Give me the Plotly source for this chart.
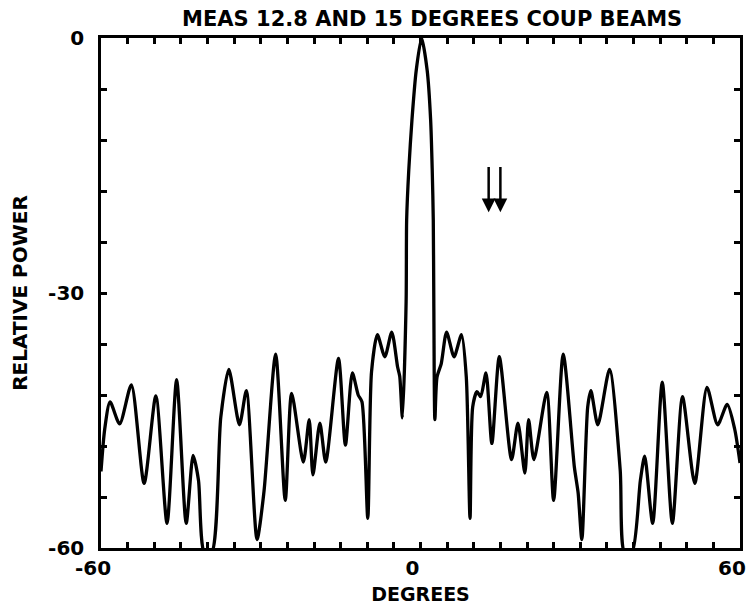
import plotly.graph_objects as go

# ---- data ----
degrees = [-60, -59.3, -58.3, -56.5, -54.3, -51.9, -49.7, -47.6, -45.8, -44.0,
           -42.7, -41.7, -40.6, -39.2, -37.5, -36.0, -34.0, -32.7, -30.7, -29.4,
           -27.2, -25.4, -24.2, -22.0, -20.9, -20.2, -18.9, -17.8, -15.4, -14.1,
           -12.8, -11.7, -11.0, -9.9, -9.2, -8.1, -6.7, -5.4, -4.3, -3.9,
           -3.4, -2.7, -2.6, -2.2, -1.6, -0.8, 0.2, 1.25, 1.9, 2.2,
           2.4, 2.5, 2.7, 3.1, 3.9, 4.9, 6.3, 7.7, 8.6, 9.3,
           9.8, 10.6, 11.3, 12.3, 13.4, 14.8, 17.1, 18.3, 19.6, 20.3,
           21.3, 23.7, 25.0, 26.8, 28.9, 29.6, 30.3, 31.4, 32.0, 33.3,
           35.5, 37.5, 38.3, 39.7, 41.3, 42.1, 43.6, 45.4, 47.3, 49.2,
           51.5, 53.8, 55.8, 57.6, 59.0, 60]
relative_power = [-51, -46, -42.8, -45.4, -40.8, -52.4, -42.1, -57.1, -40.2, -57.1,
                  -49.1, -52.0, -60.5, -60.5, -44.6, -39.0, -45.5, -41.5, -59.0, -53.4,
                  -37.2, -54.4, -41.8, -49.9, -44.9, -51.4, -45.3, -49.9, -37.7, -47.9,
                  -39.4, -42.0, -42.8, -56.5, -39.3, -34.9, -37.5, -34.6, -38.7, -39.8,
                  -44.7, -31.0, -21.4, -15.5, -9.6, -3.8, 0.0, -3.8, -9.6, -15.5,
                  -21.4, -31.0, -44.9, -39.9, -38.3, -34.6, -37.5, -34.9, -39.9, -56.5,
                  -43.4, -41.6, -42.2, -39.4, -47.7, -37.5, -49.6, -45.3, -51.2, -44.9,
                  -49.6, -41.7, -54.4, -37.2, -50.5, -53.5, -59.0, -43.4, -41.5, -45.5,
                  -39.0, -50.8, -60.5, -60.5, -52.0, -49.2, -57.1, -40.5, -57.1, -42.2,
                  -52.4, -41.1, -45.5, -43.1, -46.0, -50.0]

beam_angles = [12.8, 15.0]          # coupled beam directions (arrows)
arrow_tail = -15.0
arrow_head = -20.5

x_tick_vals = list(range(-60, 61, 5))
x_tick_text = ["-60" if v == -60 else "0" if v == 0 else "60" if v == 60 else "" for v in x_tick_vals]
y_tick_vals = list(range(-60, 1, 6))
y_tick_text = ["-60" if v == -60 else "-30" if v == -30 else "0" if v == 0 else "" for v in y_tick_vals]

title_text = "MEAS 12.8 AND 15 DEGREES COUP BEAMS"
x_title = "DEGREES"
y_title = "RELATIVE POWER"

FONT = "DejaVu Sans"
TXT = dict(family=FONT, size=20, color="black", weight="bold")

fig = go.Figure()
fig.add_trace(go.Scatter(
    x=degrees, y=relative_power, mode="lines",
    line=dict(color="black", width=3.3, shape="spline", smoothing=0.7),
    hoverinfo="skip", showlegend=False,
))

for a in beam_angles:
    fig.add_annotation(
        x=a, y=arrow_head, ax=a, ay=arrow_tail,
        xref="x", yref="y", axref="x", ayref="y",
        text="", showarrow=True, arrowhead=2, arrowsize=1.1,
        arrowwidth=2.5, arrowcolor="black",
    )

axis_common = dict(
    showline=True, linecolor="black", linewidth=2.5, mirror="ticks",
    ticks="inside", ticklen=6, tickwidth=2.5, tickcolor="black",
    showgrid=False, zeroline=False, tickfont=TXT,
)

fig.update_xaxes(range=[-60, 60], tickvals=x_tick_vals, ticktext=x_tick_text,
                 ticklabelstandoff=0, ticklabelshift=-8, ticklabeloverflow="allow",
                 title=dict(text=x_title, font=dict(TXT, size=19), standoff=11),
                 **axis_common)
fig.update_yaxes(range=[-60, 0], tickvals=y_tick_vals, ticktext=y_tick_text,
                 ticklabelstandoff=10,
                 title=dict(text=y_title, font=TXT, standoff=16),
                 **axis_common)

fig.update_layout(
    width=739, height=597,
    margin=dict(l=93, r=1, t=30, b=57),
    paper_bgcolor="white", plot_bgcolor="white",
    title=dict(text=title_text, x=0.574, xanchor="center",
               y=0.9815, yanchor="middle", font=dict(TXT, size=21)),
)

fig.write_html("out.html")
